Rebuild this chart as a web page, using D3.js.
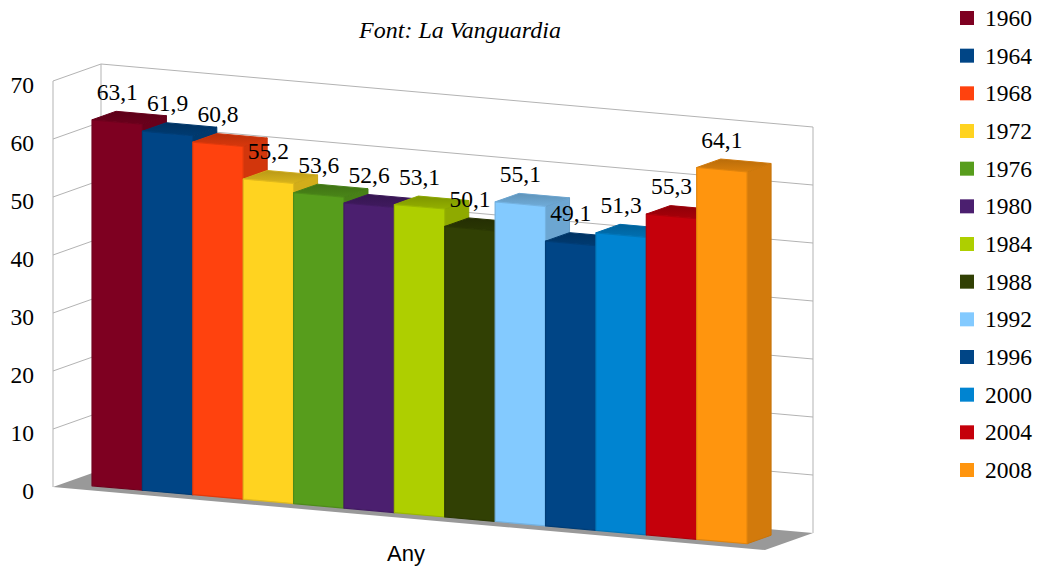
<!DOCTYPE html>
<html>
<head>
<meta charset="utf-8">
<script src="https://cdn.jsdelivr.net/npm/d3@7"></script>
<style>
  html, body { margin: 0; padding: 0; background: #fff; }
  svg { display: block; }
</style>
</head>
<body>
<svg id="chart" width="1038" height="570"></svg>
<script>
// Turnout by election year (single category "Any")
const years = ["1960", "1964", "1968", "1972", "1976", "1980", "1984", "1988", "1992", "1996", "2000", "2004", "2008"];
const values = [63.1, 61.9, 60.8, 55.2, 53.6, 52.6, 53.1, 50.1, 55.1, 49.1, 51.3, 55.3, 64.1];
const colors = ["#7e0021", "#004586", "#ff420e", "#ffd320", "#579d1c", "#4b1f6f", "#aecf00",
                "#314004", "#83caff", "#004586", "#0084d1", "#c5000b", "#ff950e"];
const yTicks = [0, 10, 20, 30, 40, 50, 60, 70];
const categoryLabel = "Any";
const titleText = "Font: La Vanguardia";

const serif = "'Liberation Serif', 'Times New Roman', serif";
const svg = d3.select("#chart");

// Oblique projection of the chart box: t along width, d along depth, v = value
const origin = [53, 487];
const widthVec = [712, 63];
const depthVec = [48, -17];
const vScale = d3.scaleLinear().domain([0, 70]).range([0, 406]);
function P(t, d, v) {
  return [origin[0] + t * widthVec[0] + d * depthVec[0],
          origin[1] + t * widthVec[1] + d * depthVec[1] - vScale(v)];
}
const poly = pts => "M" + pts.map(p => p.join(",")).join("L") + "Z";

const tScale = d3.scaleBand().domain(years).range([0, 1]).paddingInner(0).paddingOuter(0.565);
const bw = tScale.bandwidth();
const dFront = 0.22, dBack = 0.72;

// Floor
svg.append("path")
  .attr("d", poly([P(0, 0, 0), P(1, 0, 0), P(1, 1, 0), P(0, 1, 0)]))
  .attr("fill", "#999999");

// Walls and grid
const grid = svg.append("g").attr("fill", "none").attr("stroke", "#b3b3b3").attr("stroke-width", 1);
yTicks.filter(g => g > 0).forEach(g => {
  grid.append("path").attr("d", "M" + [P(0, 0, g), P(0, 1, g), P(1, 1, g)].map(p => p.join(",")).join("L"));
});
[[0, 0], [0, 1], [1, 1]].forEach(([t, d]) => {
  grid.append("path").attr("d", "M" + P(t, d, 0).join(",") + "L" + P(t, d, 70).join(","));
});

// Y axis labels at the front edge of the side wall
const yAxisScale = d3.scaleLinear().domain([0, 70]).range([origin[1], origin[1] - vScale(70)]);
const axis = svg.append("g")
  .attr("transform", `translate(${origin[0] - 19},0)`)
  .call(d3.axisLeft(yAxisScale).tickValues(yTicks).tickSize(0).tickPadding(0).tickFormat(d3.format("d")));
axis.select(".domain").remove();
axis.selectAll("text")
  .attr("font-family", serif)
  .attr("font-size", 23.5)
  .attr("fill", "#000")
  .attr("dy", "0.48em");

// Bars
const defs = svg.append("defs");
const bars = svg.append("g");
years.forEach((yr, i) => {
  const v = values[i];
  const c = d3.color(colors[i]);
  const t0 = tScale(yr), t1 = t0 + bw;
  const g = bars.append("g").attr("stroke-linejoin", "round");

  const gid = "topgrad" + i;
  const lg = defs.append("linearGradient").attr("id", gid).attr("x1", 0).attr("y1", 1).attr("x2", 0).attr("y2", 0);
  lg.append("stop").attr("offset", 0).attr("stop-color", c.darker(0.45));
  lg.append("stop").attr("offset", 1).attr("stop-color", c.darker(0.9));

  // right side
  g.append("path")
    .attr("d", poly([P(t1, dFront, 0), P(t1, dBack, 0), P(t1, dBack, v), P(t1, dFront, v)]))
    .attr("fill", c.darker(0.55)).attr("stroke", c.darker(0.7)).attr("stroke-width", 1);
  // top
  g.append("path")
    .attr("d", poly([P(t0, dFront, v), P(t1, dFront, v), P(t1, dBack, v), P(t0, dBack, v)]))
    .attr("fill", `url(#${gid})`).attr("stroke", c.darker(0.6)).attr("stroke-width", 1);
  // front
  g.append("path")
    .attr("d", poly([P(t0, dFront, 0), P(t1, dFront, 0), P(t1, dFront, v), P(t0, dFront, v)]))
    .attr("fill", c).attr("stroke", c.darker(0.35)).attr("stroke-width", 1.2);
});

// Value labels
const fmt = v => d3.format(".1f")(v).replace(".", ",");
svg.append("g").selectAll("text").data(years).join("text")
  .attr("x", (yr) => P(tScale(yr) + bw / 2, dFront, 0)[0])
  .attr("y", (yr, i) => P(tScale(yr) + bw / 2, dFront, values[i])[1] - 22)
  .attr("text-anchor", "middle")
  .attr("font-family", serif)
  .attr("font-size", 23.5)
  .attr("fill", "#000")
  .text((yr, i) => fmt(values[i]));

// Title
svg.append("text")
  .attr("x", 460).attr("y", 38)
  .attr("text-anchor", "middle")
  .attr("font-family", serif)
  .attr("font-style", "italic")
  .attr("font-size", 24)
  .text(titleText);

// Category label
svg.append("text")
  .attr("x", 406).attr("y", 561)
  .attr("text-anchor", "middle")
  .attr("font-family", "'Liberation Sans', Arial, sans-serif")
  .attr("font-size", 22)
  .text(categoryLabel);

// Legend
const legendY = d3.scalePoint().domain(years).range([18, 470]);
const legend = svg.append("g");
legend.selectAll("rect").data(years).join("rect")
  .attr("x", 960).attr("y", d => legendY(d) - 7)
  .attr("width", 14).attr("height", 14)
  .attr("fill", (d, i) => colors[i]);
legend.selectAll("text").data(years).join("text")
  .attr("x", 985).attr("y", d => legendY(d) + 8)
  .attr("font-family", serif)
  .attr("font-size", 23.5)
  .text(d => d);
</script>
</body>
</html>
